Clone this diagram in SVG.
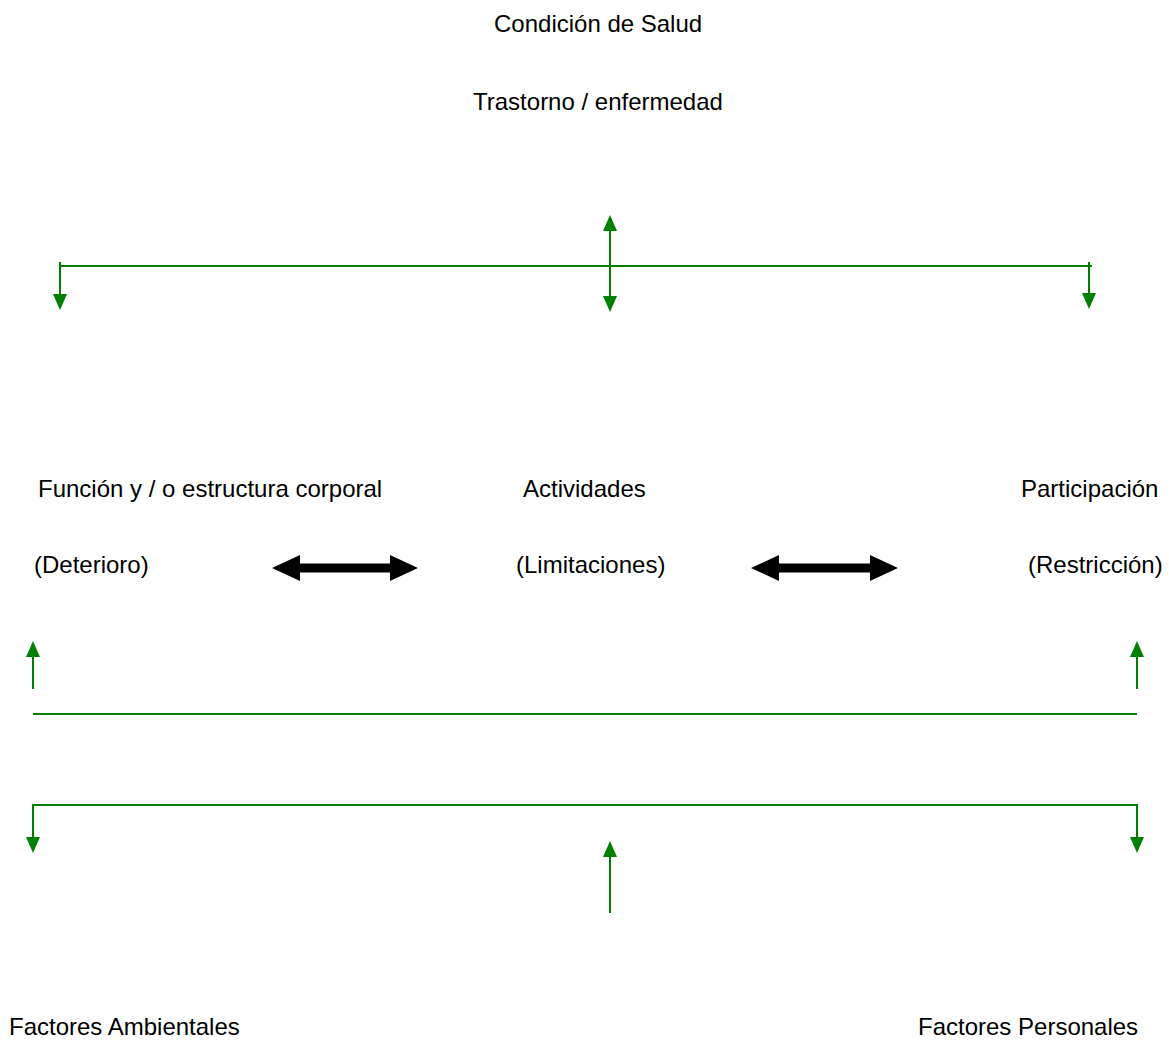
<svg xmlns="http://www.w3.org/2000/svg" width="1169" height="1040" viewBox="0 0 1169 1040">
<style>
text{font-family:"Liberation Sans",Arial,sans-serif;font-size:24px;fill:#000}
.g{stroke:#008000;stroke-width:2;fill:none}
.ga{stroke:#008000;stroke-width:2;fill:none;marker-end:url(#ah)}
.blk{fill:#000}
</style>
<defs>
<marker id="ah" markerUnits="userSpaceOnUse" markerWidth="16" markerHeight="14" refX="0" refY="7" orient="auto-start-reverse" viewBox="0 0 16 14">
<path d="M0,0 L16,7 L0,14 z" fill="#008000"/>
</marker>
</defs>
<rect width="1169" height="1040" fill="#fff"/>
<g id="condicion"><text x="494" y="32">Condición de Salud</text><text x="473" y="110">Trastorno / enfermedad</text></g>
<g id="funcion"><text x="38" y="497">Función y / o estructura corporal</text><text x="34" y="573">(Deterioro)</text></g>
<g id="actividades"><text x="523" y="497">Actividades</text><text x="516" y="573">(Limitaciones)</text></g>
<g id="participacion"><text x="1021" y="497">Participación</text><text x="1028" y="573">(Restricción)</text></g>
<g id="ambientales"><text x="9" y="1035">Factores Ambientales</text></g>
<g id="personales"><text x="918" y="1035">Factores Personales</text></g>
<g id="connectors">
<line class="g" x1="60" y1="266" x2="1092" y2="266"/>
<line class="ga" x1="60" y1="262" x2="60" y2="294"/>
<line class="ga" x1="1089" y1="262" x2="1089" y2="293"/>
<line class="ga" x1="610" y1="231" x2="610" y2="296" style="marker-start:url(#ah)"/>
<polygon class="blk" points="272,568 300,555 300,563.5 390,563.5 390,555 418,568 390,581 390,572.5 300,572.5 300,581"/>
<polygon class="blk" points="751,568 779,555 779,563.5 870,563.5 870,555 898,568 870,581 870,572.5 779,572.5 779,581"/>
<line class="ga" x1="33" y1="689" x2="33" y2="657"/>
<line class="ga" x1="1137" y1="689" x2="1137" y2="657"/>
<line class="g" x1="33" y1="714" x2="1137" y2="714"/>
<polyline class="g" points="33,837 33,805 1137,805 1137,837"/>
<path d="M26,837 L40,837 L33,853 z M1130,837 L1144,837 L1137,853 z" fill="#008000"/>
<line class="ga" x1="610" y1="913" x2="610" y2="857"/>
</g>
</svg>
